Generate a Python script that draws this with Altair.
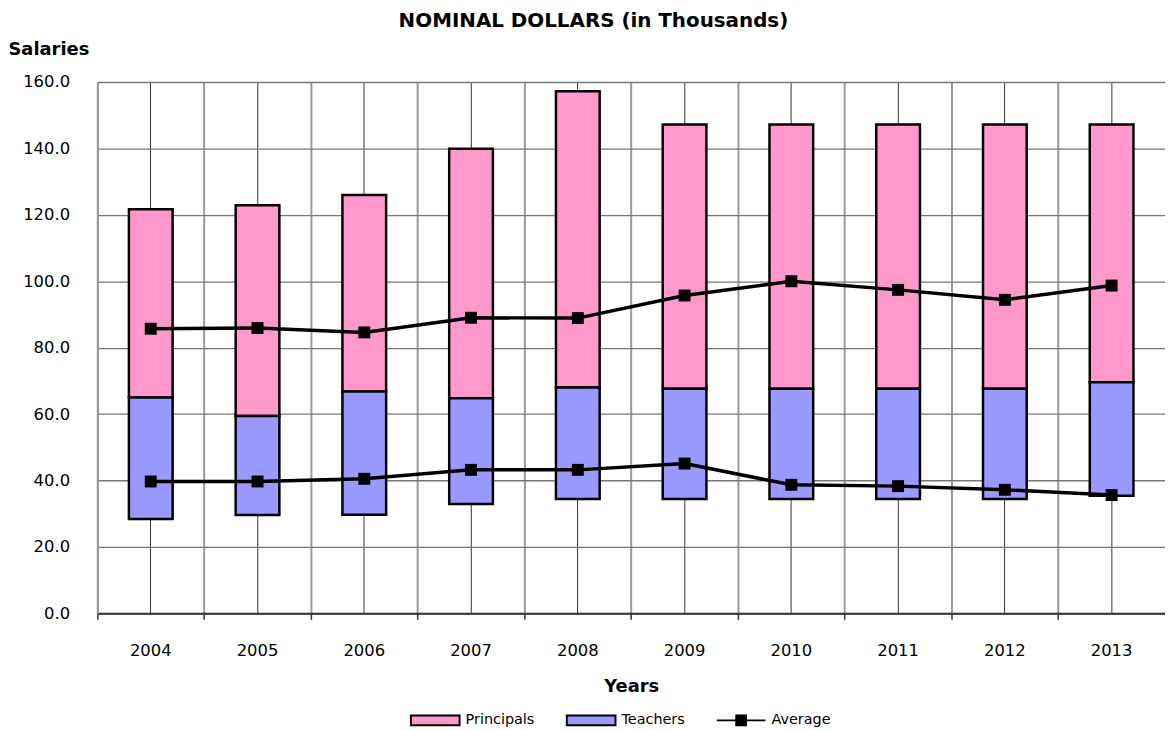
import altair as alt
import pandas as pd

years = ["2004", "2005", "2006", "2007", "2008", "2009", "2010", "2011", "2012", "2013"]
teacher_low = [28.4, 29.6, 29.7, 32.9, 34.4, 34.4, 34.4, 34.4, 34.4, 35.4]
teacher_high = [65.0, 59.4, 66.8, 64.8, 68.0, 67.6, 67.6, 67.6, 67.6, 69.6]
principal_low = [65.0, 59.4, 66.8, 64.8, 68.0, 67.6, 67.6, 67.6, 67.6, 69.6]
principal_high = [121.7, 122.9, 126.0, 139.9, 157.2, 147.2, 147.2, 147.2, 147.2, 147.2]
avg_principals = [85.7, 85.9, 84.6, 89.0, 88.9, 95.7, 100.0, 97.4, 94.4, 98.7]
avg_teachers = [39.7, 39.7, 40.5, 43.2, 43.2, 45.1, 38.7, 38.3, 37.2, 35.6]
series_names = ["Principals", "Teachers", "Average"]
series_colors = ["#FF99CC", "#9999FF", "#000000"]
y_ticks = [0, 20, 40, 60, 80, 100, 120, 140, 160]

FONT = "DejaVu Sans"

bars_df = pd.DataFrame({
    "year": years * 2,
    "series": ["Principals"] * len(years) + ["Teachers"] * len(years),
    "low": principal_low + teacher_low,
    "high": principal_high + teacher_high,
})
avg_df = pd.DataFrame({
    "year": years * 2,
    "group": ["principals"] * len(years) + ["teachers"] * len(years),
    "value": avg_principals + avg_teachers,
})

xscale = alt.Scale(domain=years, paddingInner=0, paddingOuter=0)
yscale = alt.Scale(domain=[0, 160], nice=False, zero=True)

axis_bounds = alt.Axis(
    orient="bottom", bandPosition=0, labels=False, title=None,
    grid=True, gridColor="#9a9a9a", gridWidth=2,
    ticks=True, tickSize=6, tickColor="#333333", tickWidth=1.5,
    domain=True, domainColor="#333333", domainWidth=2,
)
axis_centers = alt.Axis(
    orient="bottom", bandPosition=0.5, labels=True, title="Years",
    grid=True, gridColor="#333333", gridWidth=1,
    ticks=False, tickSize=0, domain=False,
    labelFont=FONT, labelFontSize=16.5, labelColor="#000000", labelPadding=29,
    labelAngle=0,
    titleFont=FONT, titleFontSize=18, titleFontWeight="bold", titleColor="#000000",
    titlePadding=19,
)
y_axis = alt.Axis(
    values=y_ticks, format=".1f", title="Salaries",
    grid=True, gridColor="#777777", gridWidth=1.3,
    ticks=False, domain=True, domainColor="#9a9a9a", domainWidth=2,
    labelFont=FONT, labelFontSize=16.5, labelColor="#000000", labelPadding=28,
    titleFont=FONT, titleFontSize=18, titleFontWeight="bold", titleColor="#000000",
    titleAngle=0, titleAlign="left", titleBaseline="middle", titleX=-90, titleY=-33,
)

legend = alt.Legend(
    title=None, orient="none", direction="horizontal",
    legendX=314.7, legendY=617,
    symbolType=alt.ExprRef(
        expr="datum.value === 'Average' ? 'M-1,0H1M-0.2,-0.2H0.2V0.2H-0.2Z' : 'M-1,-0.2H1V0.2H-1Z'"
    ),
    symbolSize=2401, symbolStrokeColor="#000000", symbolStrokeWidth=2,
    labelFont=FONT, labelFontSize=14.5, labelColor="#000000", labelOffset=5,
    columnPadding=28, padding=0,
)

bars = alt.Chart(bars_df).mark_bar(size=44, stroke="#000000", strokeWidth=2.5).encode(
    x=alt.X("year:N", scale=xscale, axis=axis_bounds),
    y=alt.Y("low:Q", scale=yscale, axis=y_axis, title="Salaries"),
    y2="high:Q",
    color=alt.Color("series:N", scale=alt.Scale(domain=series_names, range=series_colors), legend=legend),
)

lines = alt.Chart(avg_df).mark_line(color="#000000", strokeWidth=3.5).encode(
    x=alt.X("year:N", scale=xscale, axis=axis_centers),
    y=alt.Y("value:Q", scale=yscale, axis=y_axis, title="Salaries"),
    detail="group:N",
)

points = alt.Chart(avg_df).mark_point(shape="square", filled=True, size=144, color="#000000", opacity=1).encode(
    x=alt.X("year:N", scale=xscale, axis=None),
    y=alt.Y("value:Q", scale=yscale, axis=y_axis, title="Salaries"),
    detail="group:N",
)

chart = alt.layer(bars, lines, points).resolve_axis(x="independent", y="shared").properties(
    width=1075, height=535,
    autosize=alt.AutoSizeParams(type="none"),
    padding={"left": 90, "top": 72, "right": 0, "bottom": 118},
    title=alt.Title(
        "NOMINAL DOLLARS (in Thousands)", font=FONT, fontSize=20, fontWeight="bold",
        color="#000000", anchor="middle", frame="group", dx=-38, offset=9,
    ),
).configure_view(strokeWidth=0).configure(background="white")

chart.save("out.html", embed_options={"renderer": "svg", "actions": False})
